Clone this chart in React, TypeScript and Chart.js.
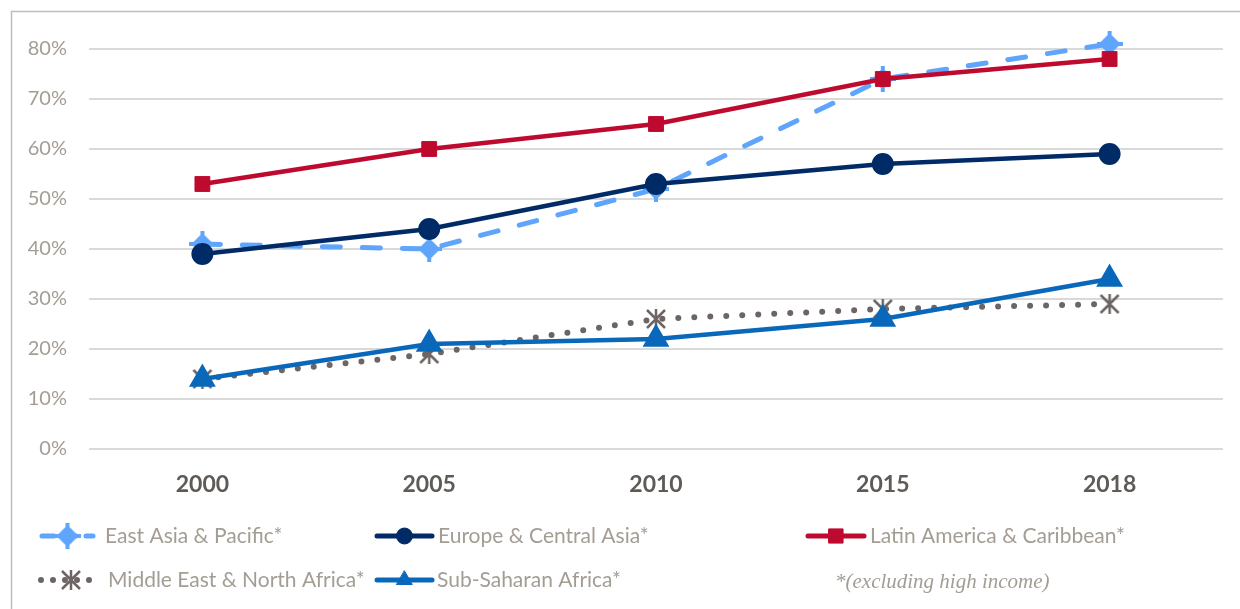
import React, { useEffect, useRef } from "react";
import { Chart, registerables } from "chart.js";
import * as helpers from "chart.js/helpers";

Chart.register(...registerables);

const years = ["2000", "2005", "2010", "2015", "2018"];
const eastAsia = [41, 40, 52, 74, 81];
const europe = [39, 44, 53, 57, 59];
const latinAmerica = [53, 60, 65, 74, 78];
const mena = [14, 19, 26, 28, 29];
const subSaharan = [14, 21, 22, 26, 34];
const yTicks = [0, 10, 20, 30, 40, 50, 60, 70, 80];
const footnote = "*(excluding high income)";

const C_EA = "#5fa5fb";
const C_EU = "#002b66";
const C_LA = "#bf0a30";
const C_ME = "#6d6563";
const C_SS = "#0a68bb";
const TXT = "#a39d94";
const FONT = "Lato, 'Open Sans', sans-serif";

function makeSpikeDiamond(color: string) {
  const c = document.createElement("canvas");
  c.width = 26; c.height = 26;
  const g = c.getContext("2d")!;
  g.fillStyle = color;
  g.beginPath();
  g.moveTo(13, 2); g.lineTo(24, 13); g.lineTo(13, 24); g.lineTo(2, 13); g.closePath();
  g.fill();
  g.fillRect(11, 0, 4, 26);
  g.fillRect(0, 11, 26, 4);
  return c;
}

function makeAsterisk(color: string) {
  const c = document.createElement("canvas");
  c.width = 24; c.height = 24;
  const g = c.getContext("2d")!;
  g.strokeStyle = color;
  g.lineWidth = 2.5;
  g.beginPath();
  g.moveTo(3, 3); g.lineTo(21, 21);
  g.moveTo(21, 3); g.lineTo(3, 21);
  g.moveTo(12, 2); g.lineTo(12, 22);
  g.stroke();
  return c;
}

export default function App() {
  const ref = useRef<HTMLCanvasElement | null>(null);

  useEffect(() => {
    document.body.style.margin = "0";
    const eaPt = makeSpikeDiamond(C_EA);
    const mePt = makeAsterisk(C_ME);

    const legendItems = [
      { label: "East Asia & Pacific*", color: C_EA, dash: [12, 10], width: 5, style: eaPt as any, r: 10, x0: 42, x1: 93, tx: 105, y: 536 },
      { label: "Europe & Central Asia*", color: C_EU, dash: [], width: 5, style: "circle", r: 8, x0: 377, x1: 432, tx: 438, y: 536 },
      { label: "Latin America & Caribbean*", color: C_LA, dash: [], width: 5, style: "rect", r: 10, x0: 808, x1: 864, tx: 870, y: 536 },
      { label: "Middle East & North Africa*", color: C_ME, dash: [0, 12], width: 6, style: mePt as any, r: 10, x0: 41, x1: 101, tx: 108, y: 580 },
      { label: "Sub-Saharan Africa*", color: C_SS, dash: [], width: 5, style: "triangle", r: 9, x0: 377, x1: 432, tx: 437, y: 580 },
    ];

    const decor = {
      id: "decor",
      beforeDraw(chart: any) {
        const ctx = chart.ctx;
        ctx.save();
        ctx.strokeStyle = "#bdbdbd";
        ctx.lineWidth = 1.5;
        ctx.strokeRect(11.5, 11.5, 1300, 700);
        ctx.restore();
      },
      afterDraw(chart: any) {
        const ctx = chart.ctx;
        ctx.save();
        for (const it of legendItems) {
          ctx.strokeStyle = it.color;
          ctx.lineWidth = it.width;
          ctx.lineCap = "round";
          ctx.setLineDash(it.dash);
          ctx.beginPath();
          ctx.moveTo(it.x0, it.y);
          ctx.lineTo(it.x1, it.y);
          ctx.stroke();
          ctx.setLineDash([]);
          ctx.fillStyle = it.color;
          ctx.strokeStyle = it.color;
          ctx.lineWidth = 1;
          helpers.drawPoint(ctx, { pointStyle: it.style, radius: it.r, rotation: 0, borderWidth: 1 }, (it.x0 + it.x1) / 2, it.y);
          ctx.fillStyle = TXT;
          ctx.font = `21px ${FONT}`;
          ctx.textBaseline = "middle";
          ctx.textAlign = "left";
          ctx.fillText(it.label, it.tx, it.y);
        }
        ctx.font = "italic 21px 'Liberation Serif', serif";
        ctx.fillStyle = TXT;
        ctx.textBaseline = "middle";
        ctx.fillText(footnote, 835, 582);
        ctx.restore();
      },
    };

    const chart = new Chart(ref.current!, {
      type: "line",
      data: {
        labels: years,
        datasets: [
          { label: "East Asia & Pacific*", data: eastAsia, borderColor: C_EA, backgroundColor: C_EA, borderWidth: 5, borderDash: [18, 22], borderCapStyle: "round", pointStyle: eaPt as any, pointRadius: 12, order: 5, clip: false } as any,
          { label: "Europe & Central Asia*", data: europe, borderColor: C_EU, backgroundColor: C_EU, borderWidth: 4.5, pointStyle: "circle", pointRadius: 10, pointBorderWidth: 2, order: 3, clip: false },
          { label: "Latin America & Caribbean*", data: latinAmerica, borderColor: C_LA, backgroundColor: C_LA, borderWidth: 4.5, pointStyle: "rect", pointRadius: 10.5, pointBorderWidth: 1, order: 2, clip: false },
          { label: "Middle East & North Africa*", data: mena, borderColor: C_ME, backgroundColor: C_ME, borderWidth: 6, borderDash: [0, 16], borderCapStyle: "round", pointStyle: mePt as any, pointRadius: 11, order: 4, clip: false } as any,
          { label: "Sub-Saharan Africa*", data: subSaharan, borderColor: C_SS, backgroundColor: C_SS, borderWidth: 4.5, pointStyle: "triangle", pointRadius: 11, order: 1, clip: false },
        ],
      },
      options: {
        animation: false,
        responsive: false,
        maintainAspectRatio: false,
        layout: { padding: { left: 0, right: 15, top: 49, bottom: 0 } },
        plugins: { legend: { display: false }, tooltip: { enabled: false } },
        elements: { line: { tension: 0 } },
        scales: {
          x: {
            offset: true,
            grid: { display: false, drawTicks: false },
            border: { display: false },
            ticks: { color: "#5f5a55", font: { family: FONT, size: 23, weight: "bold" }, padding: 22 },
            afterFit: (s: any) => { s.height = 160; },
          },
          y: {
            min: 0,
            max: 80,
            afterBuildTicks: (s: any) => { s.ticks = yTicks.map((v) => ({ value: v })); },
            grid: { color: "#d9d9d9", lineWidth: 2, drawTicks: false },
            border: { display: false },
            ticks: { color: TXT, font: { family: FONT, size: 20 }, padding: 22, callback: (v: any) => v + "%" },
            afterFit: (s: any) => { s.width = 89; },
          },
        },
      },
      plugins: [decor],
    });
    return () => chart.destroy();
  }, []);

  return (
    <div style={{ position: "absolute", left: 0, top: 0, width: 1240, height: 609, background: "#fff" }}>
      <canvas ref={ref} width={1240} height={609} style={{ width: 1240, height: 609 }} />
    </div>
  );
}
